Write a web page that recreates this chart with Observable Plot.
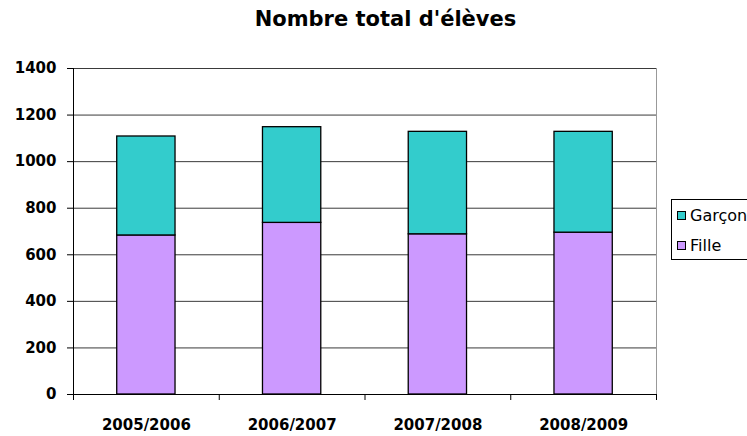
<!DOCTYPE html>
<html>
<head>
<meta charset="utf-8">
<script src="https://cdn.jsdelivr.net/npm/d3@7"></script>
<script src="https://cdn.jsdelivr.net/npm/@observablehq/plot@0.6"></script>
<style>
  html, body { margin: 0; padding: 0; background: #fff; }
  #wrap { position: relative; width: 747px; height: 436px; overflow: hidden; }
  #title { position: absolute; left: 0; width: 771px; top: 6px; text-align: center;
           font-family: "DejaVu Sans", sans-serif; font-weight: bold; font-size: 21px; line-height: 26px; color: #000; }
  #legend { position: absolute; left: 671px; top: 199px; width: 100px; height: 61px;
            border: 1px solid #000; box-sizing: border-box; background: #fff;
            font-family: "DejaVu Sans", sans-serif; font-size: 16px; color: #000; }
  .item { position: absolute; left: 5px; height: 20px; line-height: 20px; white-space: nowrap; }
  .sw { display: inline-block; width: 7px; height: 7px; border: 1px solid #000; margin-right: 4px; vertical-align: 1px; }
</style>
</head>
<body>
<div id="wrap">
  <div id="title">Nombre total d'élèves</div>
  <div id="chart"></div>
  <div id="legend"></div>
</div>
<script>
const years = ["2005/2006", "2006/2007", "2007/2008", "2008/2009"];
const fille = [683, 737, 688, 695];
const garcon = [425, 411, 440, 433];
const seriesNames = ["Fille", "Garçon"];
const seriesColors = ["#cc99ff", "#33cccc"];
const yTicks = [0, 200, 400, 600, 800, 1000, 1200, 1400];

const rows = [];
years.forEach((yr, i) => {
  rows.push({i, year: yr, series: "Fille", y1: 0, y2: fille[i]});
  rows.push({i, year: yr, series: "Garçon", y1: fille[i], y2: fille[i] + garcon[i]});
});
const centers = years.map((_, i) => i + 0.5);
const bounds = d3.range(years.length + 1);

const chart = Plot.plot({
  width: 747,
  height: 436,
  marginLeft: 73,
  marginRight: 91,
  marginTop: 68,
  marginBottom: 42,
  style: {fontFamily: "DejaVu Sans, sans-serif", background: "#fff"},
  x: {type: "linear", domain: [0, years.length], axis: null},
  y: {domain: [0, 1400], axis: null},
  color: {domain: seriesNames, range: seriesColors},
  marks: [
    Plot.ruleY(yTicks.slice(1), {stroke: "#3a3a3a", strokeWidth: 1}),
    Plot.ruleX([years.length], {stroke: "#999", strokeWidth: 1}),
    Plot.rect(rows, {x1: d => d.i + 0.3, x2: d => d.i + 0.7, y1: "y1", y2: "y2", fill: "series", stroke: "#000", strokeWidth: 1.3}),
    Plot.ruleX([0], {stroke: "#000", strokeWidth: 1}),
    Plot.ruleY([0], {stroke: "#000", strokeWidth: 1}),
    Plot.axisY({ticks: yTicks, tickSize: 6, tickPadding: 11, tickFormat: d => String(d),
      fontSize: 15, fontWeight: "bold", stroke: "#000"}),
    Plot.axisX({ticks: bounds, tickSize: 6, tickFormat: () => "", stroke: "#000"}),
    Plot.axisX({ticks: centers, tickSize: 0, tickPadding: 25, tickFormat: d => years[Math.floor(d)],
      fontSize: 15, fontWeight: "bold"})
  ]
});
document.getElementById("chart").appendChild(chart);

const legend = document.getElementById("legend");
const legendItems = [["Garçon", seriesColors[1]], ["Fille", seriesColors[0]]];
legendItems.forEach(([name, col], k) => {
  const div = document.createElement("div");
  div.className = "item";
  div.style.top = (6 + k * 30) + "px";
  div.innerHTML = `<span class="sw" style="background:${col}"></span>${name}`;
  legend.appendChild(div);
});
</script>
</body>
</html>
